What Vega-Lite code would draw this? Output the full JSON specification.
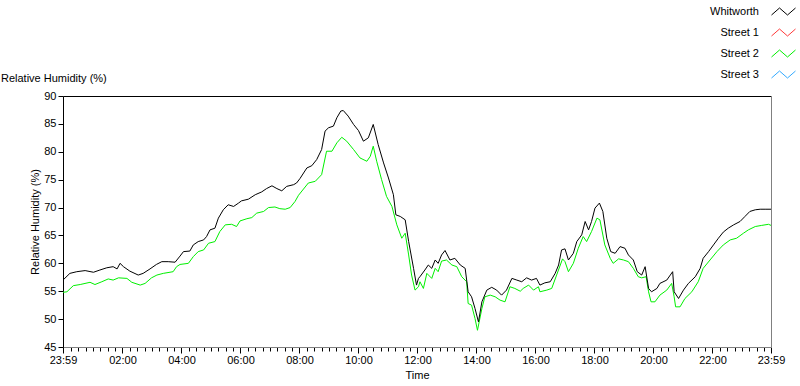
{
 "$schema": "https://vega.github.io/schema/vega-lite/v6.json",
 "width": 708,
 "height": 251,
 "autosize": {"type": "none"},
 "padding": {"left": 63, "top": 96, "right": 29, "bottom": 39},
 "background": "white",
 "config": {"view": {"stroke": null}, "font": "Liberation Sans"},
 "title": {"text": "Relative Humidity (%)", "anchor": "start", "frame": "group", "dx": -62, "dy": 95, "offset": 12, "fontSize": 11, "fontWeight": "normal", "font": "Liberation Sans", "color": "black"},
 "data": {"values": [
  {"series":"Street 2","minutes":0,"rh":54.8},{"series":"Street 2","minutes":8,"rh":54.9},{"series":"Street 2","minutes":21,"rh":56.0},{"series":"Street 2","minutes":35,"rh":56.2},{"series":"Street 2","minutes":55,"rh":56.6},{"series":"Street 2","minutes":65,"rh":56.2},{"series":"Street 2","minutes":79,"rh":56.7},{"series":"Street 2","minutes":92,"rh":57.2},{"series":"Street 2","minutes":102,"rh":57.0},{"series":"Street 2","minutes":113,"rh":57.4},{"series":"Street 2","minutes":130,"rh":57.3},{"series":"Street 2","minutes":140,"rh":56.6},{"series":"Street 2","minutes":157,"rh":56.1},{"series":"Street 2","minutes":167,"rh":56.4},{"series":"Street 2","minutes":180,"rh":57.4},{"series":"Street 2","minutes":191,"rh":57.9},{"series":"Street 2","minutes":204,"rh":58.2},{"series":"Street 2","minutes":224,"rh":58.5},{"series":"Street 2","minutes":231,"rh":59.4},{"series":"Street 2","minutes":238,"rh":59.8},
  {"series":"Street 2","minutes":255,"rh":60.0},{"series":"Street 2","minutes":265,"rh":61.2},{"series":"Street 2","minutes":275,"rh":62.1},{"series":"Street 2","minutes":286,"rh":62.4},{"series":"Street 2","minutes":296,"rh":63.6},{"series":"Street 2","minutes":309,"rh":63.9},{"series":"Street 2","minutes":319,"rh":65.7},{"series":"Street 2","minutes":330,"rh":66.9},{"series":"Street 2","minutes":343,"rh":67.0},{"series":"Street 2","minutes":353,"rh":66.6},{"series":"Street 2","minutes":360,"rh":67.6},{"series":"Street 2","minutes":374,"rh":68.0},{"series":"Street 2","minutes":384,"rh":68.2},{"series":"Street 2","minutes":394,"rh":69.0},{"series":"Street 2","minutes":408,"rh":69.3},{"series":"Street 2","minutes":418,"rh":70.0},{"series":"Street 2","minutes":431,"rh":70.1},{"series":"Street 2","minutes":441,"rh":69.8},{"series":"Street 2","minutes":452,"rh":69.7},{"series":"Street 2","minutes":462,"rh":70.0},{"series":"Street 2","minutes":472,"rh":71.1},{"series":"Street 2","minutes":479,"rh":72.2},
  {"series":"Street 2","minutes":499,"rh":74.4},{"series":"Street 2","minutes":513,"rh":74.7},{"series":"Street 2","minutes":526,"rh":75.9},{"series":"Street 2","minutes":536,"rh":80.1},{"series":"Street 2","minutes":547,"rh":80.1},{"series":"Street 2","minutes":557,"rh":81.6},{"series":"Street 2","minutes":567,"rh":82.6},{"series":"Street 2","minutes":577,"rh":81.9},{"series":"Street 2","minutes":591,"rh":80.4},{"series":"Street 2","minutes":604,"rh":78.9},{"series":"Street 2","minutes":618,"rh":78.3},{"series":"Street 2","minutes":625,"rh":79.2},{"series":"Street 2","minutes":631,"rh":81.0},{"series":"Street 2","minutes":638,"rh":78.3},{"series":"Street 2","minutes":648,"rh":75.0},{"series":"Street 2","minutes":658,"rh":72.0},{"series":"Street 2","minutes":669,"rh":70.2},{"series":"Street 2","minutes":679,"rh":66.9},{"series":"Street 2","minutes":689,"rh":64.5},{"series":"Street 2","minutes":696,"rh":65.4},{"series":"Street 2","minutes":703,"rh":61.5},{"series":"Street 2","minutes":709,"rh":57.9},{"series":"Street 2","minutes":716,"rh":55.2},{"series":"Street 2","minutes":723,"rh":55.8},{"series":"Street 2","minutes":726,"rh":56.7},
  {"series":"Street 2","minutes":733,"rh":55.5},{"series":"Street 2","minutes":740,"rh":58.2},{"series":"Street 2","minutes":750,"rh":57.3},{"series":"Street 2","minutes":757,"rh":59.1},{"series":"Street 2","minutes":763,"rh":58.5},{"series":"Street 2","minutes":770,"rh":60.4},{"series":"Street 2","minutes":780,"rh":60.6},{"series":"Street 2","minutes":791,"rh":59.7},{"series":"Street 2","minutes":801,"rh":59.4},{"series":"Street 2","minutes":811,"rh":57.6},{"series":"Street 2","minutes":821,"rh":56.7},{"series":"Street 2","minutes":824,"rh":52.8},{"series":"Street 2","minutes":831,"rh":52.5},{"series":"Street 2","minutes":838,"rh":50.1},{"series":"Street 2","minutes":843,"rh":48.0},{"series":"Street 2","minutes":852,"rh":51.9},{"series":"Street 2","minutes":858,"rh":54.0},{"series":"Street 2","minutes":869,"rh":54.3},{"series":"Street 2","minutes":879,"rh":54.0},{"series":"Street 2","minutes":889,"rh":53.4},{"series":"Street 2","minutes":899,"rh":53.1},{"series":"Street 2","minutes":909,"rh":55.8},{"series":"Street 2","minutes":919,"rh":55.5},{"series":"Street 2","minutes":930,"rh":55.0},{"series":"Street 2","minutes":936,"rh":55.5},{"series":"Street 2","minutes":947,"rh":56.1},{"series":"Street 2","minutes":957,"rh":55.2},{"series":"Street 2","minutes":967,"rh":55.8},{"series":"Street 2","minutes":970,"rh":54.9},
  {"series":"Street 2","minutes":984,"rh":55.2},{"series":"Street 2","minutes":994,"rh":55.5},{"series":"Street 2","minutes":1004,"rh":57.9},{"series":"Street 2","minutes":1016,"rh":60.8},{"series":"Street 2","minutes":1021,"rh":60.3},{"series":"Street 2","minutes":1028,"rh":58.5},{"series":"Street 2","minutes":1038,"rh":60.0},{"series":"Street 2","minutes":1048,"rh":62.7},{"series":"Street 2","minutes":1058,"rh":64.8},{"series":"Street 2","minutes":1065,"rh":63.9},{"series":"Street 2","minutes":1075,"rh":65.7},{"series":"Street 2","minutes":1086,"rh":68.1},{"series":"Street 2","minutes":1092,"rh":67.8},{"series":"Street 2","minutes":1102,"rh":63.3},{"series":"Street 2","minutes":1113,"rh":60.9},{"series":"Street 2","minutes":1119,"rh":60.0},{"series":"Street 2","minutes":1130,"rh":60.8},{"series":"Street 2","minutes":1140,"rh":60.6},{"series":"Street 2","minutes":1150,"rh":60.3},{"series":"Street 2","minutes":1160,"rh":59.1},{"series":"Street 2","minutes":1170,"rh":57.6},{"series":"Street 2","minutes":1177,"rh":57.4},{"series":"Street 2","minutes":1186,"rh":57.6},{"series":"Street 2","minutes":1191,"rh":54.9},{"series":"Street 2","minutes":1196,"rh":53.1},{"series":"Street 2","minutes":1204,"rh":53.1},{"series":"Street 2","minutes":1214,"rh":54.3},
  {"series":"Street 2","minutes":1228,"rh":55.2},{"series":"Street 2","minutes":1238,"rh":56.4},{"series":"Street 2","minutes":1243,"rh":54.0},{"series":"Street 2","minutes":1246,"rh":52.2},{"series":"Street 2","minutes":1255,"rh":52.2},{"series":"Street 2","minutes":1265,"rh":53.7},{"series":"Street 2","minutes":1279,"rh":54.9},{"series":"Street 2","minutes":1292,"rh":56.7},{"series":"Street 2","minutes":1302,"rh":59.1},{"series":"Street 2","minutes":1316,"rh":60.6},{"series":"Street 2","minutes":1330,"rh":62.1},{"series":"Street 2","minutes":1343,"rh":63.3},{"series":"Street 2","minutes":1357,"rh":64.2},{"series":"Street 2","minutes":1370,"rh":64.5},{"series":"Street 2","minutes":1384,"rh":65.4},{"series":"Street 2","minutes":1394,"rh":66.0},{"series":"Street 2","minutes":1408,"rh":66.6},{"series":"Street 2","minutes":1421,"rh":66.8},{"series":"Street 2","minutes":1435,"rh":67.0},{"series":"Street 2","minutes":1440,"rh":66.8},
  {"series":"Whitworth","minutes":0,"rh":57.0},{"series":"Whitworth","minutes":14,"rh":58.2},{"series":"Whitworth","minutes":28,"rh":58.5},{"series":"Whitworth","minutes":45,"rh":58.7},{"series":"Whitworth","minutes":62,"rh":58.4},{"series":"Whitworth","minutes":75,"rh":58.8},{"series":"Whitworth","minutes":89,"rh":59.2},{"series":"Whitworth","minutes":102,"rh":59.4},{"series":"Whitworth","minutes":110,"rh":59.0},{"series":"Whitworth","minutes":116,"rh":60.0},{"series":"Whitworth","minutes":123,"rh":59.4},{"series":"Whitworth","minutes":136,"rh":58.6},{"series":"Whitworth","minutes":153,"rh":57.9},{"series":"Whitworth","minutes":163,"rh":58.2},{"series":"Whitworth","minutes":177,"rh":59.0},{"series":"Whitworth","minutes":190,"rh":59.8},{"series":"Whitworth","minutes":201,"rh":60.3},{"series":"Whitworth","minutes":214,"rh":60.3},{"series":"Whitworth","minutes":228,"rh":60.2},{"series":"Whitworth","minutes":238,"rh":61.3},
  {"series":"Whitworth","minutes":245,"rh":62.1},{"series":"Whitworth","minutes":258,"rh":62.2},{"series":"Whitworth","minutes":265,"rh":63.3},{"series":"Whitworth","minutes":275,"rh":63.9},{"series":"Whitworth","minutes":286,"rh":64.2},{"series":"Whitworth","minutes":292,"rh":64.8},{"series":"Whitworth","minutes":299,"rh":66.0},{"series":"Whitworth","minutes":309,"rh":66.3},{"series":"Whitworth","minutes":316,"rh":68.1},{"series":"Whitworth","minutes":326,"rh":69.6},{"series":"Whitworth","minutes":336,"rh":70.5},{"series":"Whitworth","minutes":347,"rh":70.2},{"series":"Whitworth","minutes":357,"rh":70.8},{"series":"Whitworth","minutes":363,"rh":71.2},{"series":"Whitworth","minutes":377,"rh":71.5},{"series":"Whitworth","minutes":391,"rh":72.3},{"series":"Whitworth","minutes":404,"rh":72.8},{"series":"Whitworth","minutes":414,"rh":73.4},{"series":"Whitworth","minutes":425,"rh":73.9},{"series":"Whitworth","minutes":435,"rh":73.4},{"series":"Whitworth","minutes":445,"rh":73.0},{"series":"Whitworth","minutes":455,"rh":73.8},{"series":"Whitworth","minutes":469,"rh":74.1},{"series":"Whitworth","minutes":475,"rh":74.4},{"series":"Whitworth","minutes":482,"rh":75.2},
  {"series":"Whitworth","minutes":496,"rh":77.1},{"series":"Whitworth","minutes":506,"rh":77.5},{"series":"Whitworth","minutes":516,"rh":78.6},{"series":"Whitworth","minutes":526,"rh":80.4},{"series":"Whitworth","minutes":533,"rh":83.7},{"series":"Whitworth","minutes":540,"rh":84.3},{"series":"Whitworth","minutes":550,"rh":84.6},{"series":"Whitworth","minutes":557,"rh":86.1},{"series":"Whitworth","minutes":565,"rh":87.3},{"series":"Whitworth","minutes":570,"rh":87.4},{"series":"Whitworth","minutes":580,"rh":86.4},{"series":"Whitworth","minutes":591,"rh":84.9},{"series":"Whitworth","minutes":601,"rh":83.8},{"series":"Whitworth","minutes":611,"rh":81.9},{"series":"Whitworth","minutes":621,"rh":82.5},{"series":"Whitworth","minutes":631,"rh":84.9},{"series":"Whitworth","minutes":641,"rh":81.3},{"series":"Whitworth","minutes":652,"rh":78.0},{"series":"Whitworth","minutes":662,"rh":75.3},{"series":"Whitworth","minutes":672,"rh":72.3},{"series":"Whitworth","minutes":677,"rh":68.7},{"series":"Whitworth","minutes":686,"rh":68.4},{"series":"Whitworth","minutes":696,"rh":67.8},{"series":"Whitworth","minutes":703,"rh":63.9},{"series":"Whitworth","minutes":713,"rh":59.1},{"series":"Whitworth","minutes":719,"rh":56.1},{"series":"Whitworth","minutes":723,"rh":57.3},{"series":"Whitworth","minutes":726,"rh":57.6},
  {"series":"Whitworth","minutes":736,"rh":58.8},{"series":"Whitworth","minutes":743,"rh":59.7},{"series":"Whitworth","minutes":750,"rh":59.1},{"series":"Whitworth","minutes":757,"rh":60.6},{"series":"Whitworth","minutes":763,"rh":60.0},{"series":"Whitworth","minutes":770,"rh":61.5},{"series":"Whitworth","minutes":777,"rh":62.3},{"series":"Whitworth","minutes":787,"rh":60.6},{"series":"Whitworth","minutes":797,"rh":60.9},{"series":"Whitworth","minutes":808,"rh":59.7},{"series":"Whitworth","minutes":818,"rh":59.1},{"series":"Whitworth","minutes":824,"rh":54.9},{"series":"Whitworth","minutes":831,"rh":54.0},{"series":"Whitworth","minutes":838,"rh":51.9},{"series":"Whitworth","minutes":845,"rh":49.5},{"series":"Whitworth","minutes":852,"rh":53.1},{"series":"Whitworth","minutes":862,"rh":55.2},{"series":"Whitworth","minutes":872,"rh":55.7},{"series":"Whitworth","minutes":882,"rh":55.2},{"series":"Whitworth","minutes":892,"rh":54.3},{"series":"Whitworth","minutes":902,"rh":55.2},{"series":"Whitworth","minutes":913,"rh":57.3},{"series":"Whitworth","minutes":923,"rh":57.0},{"series":"Whitworth","minutes":933,"rh":56.7},{"series":"Whitworth","minutes":943,"rh":57.4},{"series":"Whitworth","minutes":953,"rh":57.0},{"series":"Whitworth","minutes":963,"rh":57.3},{"series":"Whitworth","minutes":970,"rh":56.1},
  {"series":"Whitworth","minutes":980,"rh":56.5},{"series":"Whitworth","minutes":991,"rh":56.7},{"series":"Whitworth","minutes":1001,"rh":58.2},{"series":"Whitworth","minutes":1008,"rh":59.7},{"series":"Whitworth","minutes":1014,"rh":62.4},{"series":"Whitworth","minutes":1021,"rh":62.6},{"series":"Whitworth","minutes":1028,"rh":60.6},{"series":"Whitworth","minutes":1038,"rh":61.8},{"series":"Whitworth","minutes":1045,"rh":63.9},{"series":"Whitworth","minutes":1055,"rh":65.1},{"series":"Whitworth","minutes":1062,"rh":67.5},{"series":"Whitworth","minutes":1069,"rh":66.0},{"series":"Whitworth","minutes":1075,"rh":67.5},{"series":"Whitworth","minutes":1082,"rh":69.9},{"series":"Whitworth","minutes":1091,"rh":70.8},{"series":"Whitworth","minutes":1098,"rh":69.3},{"series":"Whitworth","minutes":1106,"rh":64.5},{"series":"Whitworth","minutes":1114,"rh":62.1},{"series":"Whitworth","minutes":1123,"rh":61.8},{"series":"Whitworth","minutes":1133,"rh":63.0},{"series":"Whitworth","minutes":1143,"rh":62.7},{"series":"Whitworth","minutes":1150,"rh":61.5},{"series":"Whitworth","minutes":1160,"rh":60.6},{"series":"Whitworth","minutes":1168,"rh":58.5},{"series":"Whitworth","minutes":1177,"rh":57.9},{"series":"Whitworth","minutes":1184,"rh":59.4},{"series":"Whitworth","minutes":1191,"rh":55.5},{"series":"Whitworth","minutes":1197,"rh":54.9},{"series":"Whitworth","minutes":1208,"rh":55.5},{"series":"Whitworth","minutes":1214,"rh":56.4},
  {"series":"Whitworth","minutes":1228,"rh":57.0},{"series":"Whitworth","minutes":1240,"rh":58.5},{"series":"Whitworth","minutes":1243,"rh":54.9},{"series":"Whitworth","minutes":1252,"rh":53.7},{"series":"Whitworth","minutes":1262,"rh":55.2},{"series":"Whitworth","minutes":1272,"rh":56.4},{"series":"Whitworth","minutes":1286,"rh":57.6},{"series":"Whitworth","minutes":1296,"rh":59.1},{"series":"Whitworth","minutes":1302,"rh":60.9},{"series":"Whitworth","minutes":1313,"rh":62.1},{"series":"Whitworth","minutes":1323,"rh":63.3},{"series":"Whitworth","minutes":1333,"rh":64.5},{"series":"Whitworth","minutes":1343,"rh":65.6},{"series":"Whitworth","minutes":1353,"rh":66.3},{"series":"Whitworth","minutes":1364,"rh":66.9},{"series":"Whitworth","minutes":1377,"rh":67.5},{"series":"Whitworth","minutes":1387,"rh":68.4},{"series":"Whitworth","minutes":1397,"rh":69.3},{"series":"Whitworth","minutes":1408,"rh":69.6},{"series":"Whitworth","minutes":1418,"rh":69.7},{"series":"Whitworth","minutes":1428,"rh":69.7},{"series":"Whitworth","minutes":1440,"rh":69.7}
 ]},
 "layer": [
  {
   "transform": [{"filter": "datum.series === 'Street 2'"}],
   "mark": {"type": "line", "strokeWidth": 1, "interpolate": "linear"},
   "encoding": {
    "x": {"field": "minutes", "type": "quantitative", "scale": {"domain": [0, 1440], "nice": false, "zero": false},
     "axis": {"orient": "bottom", "title": "Time", "titleFont": "Liberation Sans", "titleFontSize": 11, "titleFontWeight": "normal", "titleColor": "black", "titlePadding": 4,
      "values": [0,1,16,31,46,61,76,91,106,121,136,151,166,181,196,211,226,241,256,271,286,301,316,331,346,361,376,391,406,421,436,451,466,481,496,511,526,541,556,571,586,601,616,631,646,661,676,691,706,721,736,751,766,781,796,811,826,841,856,871,886,901,916,931,946,961,976,991,1006,1021,1036,1051,1066,1081,1096,1111,1126,1141,1156,1171,1186,1201,1216,1231,1246,1261,1276,1291,1306,1321,1336,1351,1366,1381,1396,1411,1426,1440],
      "labelExpr": "datum.value == 0 || datum.value == 1440 ? '23:59' : (datum.value > 1 && (datum.value - 1) % 120 == 0 ? (((datum.value - 1) / 60) < 10 ? '0' : '') + ((datum.value - 1) / 60) + ':00' : '')",
      "labelOverlap": false, "labelFlush": false, "labelBound": false, "labelFont": "Liberation Sans", "labelFontSize": 11, "labelColor": "black", "labelPadding": 1,
      "tickColor": "black", "tickSize": {"condition": {"test": "datum.value == 0 || datum.value == 1440 || (datum.value > 1 && (datum.value - 1) % 120 == 0)", "value": 6}, "value": 4},
      "domainColor": "#808080", "grid": false}},
    "y": {"field": "rh", "type": "quantitative", "scale": {"domain": [45, 90], "nice": false, "zero": false},
     "axis": {"orient": "left", "title": "Relative Humidity (%)", "titleFont": "Liberation Sans", "titleFontSize": 11, "titleFontWeight": "normal", "titleColor": "black", "titlePadding": 3,
      "values": [45,50,55,60,65,70,75,80,85,90], "labelFont": "Liberation Sans", "labelFontSize": 11, "labelColor": "black", "labelPadding": 2,
      "tickColor": "black", "tickSize": 5, "domainColor": "black", "grid": false}},
    "color": {"field": "series", "type": "nominal",
     "scale": {"domain": ["Whitworth", "Street 1", "Street 2", "Street 3"], "range": ["#000000", "#ff3a3a", "#00f000", "#33aaff"]},
     "legend": {"orient": "none", "legendX": 710, "legendY": -95, "title": null, "direction": "vertical",
      "symbolType": "M-1.2,0.35L-0.4,-0.35L0.4,0.35L1.2,-0.35", "symbolSize": 400, "symbolStrokeWidth": 1,
      "labelAlign": "right", "labelOffset": -35, "labelFont": "Liberation Sans", "labelFontSize": 11, "labelColor": "black", "labelLimit": 0,
      "rowPadding": 5, "padding": 0}}
   }
  },
  {
   "transform": [{"filter": "datum.series === 'Whitworth'"}],
   "mark": {"type": "line", "strokeWidth": 1, "interpolate": "linear"},
   "encoding": {
    "x": {"field": "minutes", "type": "quantitative", "scale": {"domain": [0, 1440], "nice": false, "zero": false},
     "axis": {"orient": "top", "title": null, "labels": false, "ticks": false, "domainColor": "black", "grid": false}},
    "y": {"field": "rh", "type": "quantitative", "scale": {"domain": [45, 90], "nice": false, "zero": false},
     "axis": {"orient": "right", "title": null, "labels": false, "ticks": false, "domainColor": "#808080", "grid": false}},
    "color": {"field": "series", "type": "nominal",
     "scale": {"domain": ["Whitworth", "Street 1", "Street 2", "Street 3"], "range": ["#000000", "#ff3a3a", "#00f000", "#33aaff"]},
     "legend": {"orient": "none", "legendX": 710, "legendY": -95, "title": null, "direction": "vertical",
      "symbolType": "M-1.2,0.35L-0.4,-0.35L0.4,0.35L1.2,-0.35", "symbolSize": 400, "symbolStrokeWidth": 1,
      "labelAlign": "right", "labelOffset": -35, "labelFont": "Liberation Sans", "labelFontSize": 11, "labelColor": "black", "labelLimit": 0,
      "rowPadding": 5, "padding": 0}}
   }
  }
 ],
 "resolve": {"axis": {"x": "independent", "y": "independent"}}
}
